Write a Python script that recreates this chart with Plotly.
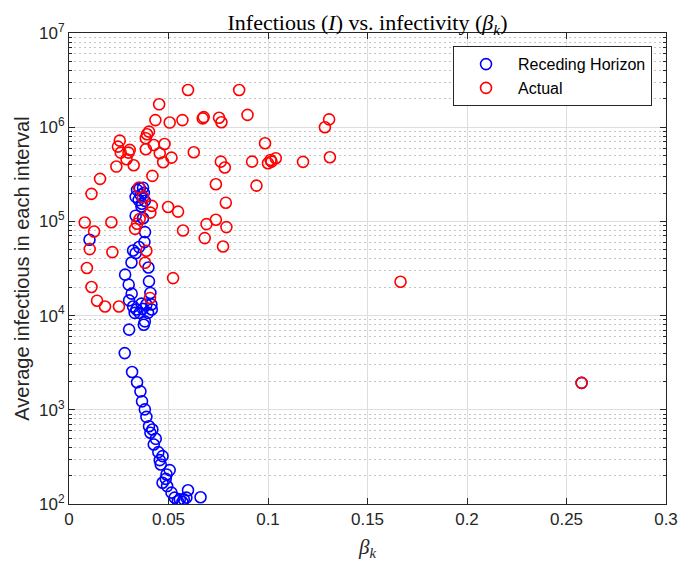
import plotly.graph_objects as go

# Receding Horizon (blue)
rh_beta = [0.0356, 0.0372, 0.0342, 0.0360, 0.0376, 0.0335, 0.0350, 0.0381, 0.0366, 0.0364,
           0.0335, 0.0372, 0.0382, 0.0103, 0.0379, 0.0352, 0.0322, 0.0335, 0.0399, 0.0314,
           0.0282, 0.0300, 0.0402, 0.0315, 0.0409, 0.0302, 0.0322, 0.0364, 0.0389, 0.0414,
           0.0339, 0.0355, 0.0397, 0.0371, 0.0330, 0.0416, 0.0381, 0.0376, 0.0302, 0.0280,
           0.0317, 0.0342, 0.0359, 0.0367, 0.0381, 0.0389, 0.0402, 0.0419, 0.0409, 0.0436,
           0.0426, 0.0449, 0.0470, 0.0456, 0.0461, 0.0506, 0.0490, 0.0486, 0.0470, 0.0493,
           0.0515, 0.0531, 0.0557, 0.0570, 0.0547, 0.0590, 0.0598, 0.0661, 0.0577, 0.2576]
rh_inf = [2.25e5, 2.28e5, 2.16e5, 1.91e5, 2.01e5, 1.82e5, 1.69e5, 1.65e5, 1.54e5, 1.44e5,
          1.15e5, 1.08e5, 7.7e4, 6.38e4, 6.03e4, 5.34e4, 4.91e4, 4.61e4, 3.24e4, 3.66e4,
          2.72e4, 2.13e4, 2.31e4, 1.71e4, 1.74e4, 1.45e4, 1.25e4, 1.34e4, 1.31e4, 1.31e4,
          1.16e4, 1.07e4, 1.07e4, 1.18e4, 1.07e4, 1.16e4, 8.69e3, 8.0e3, 7.1e3, 4.0e3,
          2.52e3, 1.96e3, 1.57e3, 1.23e3, 1.01e3, 842, 669, 618, 570, 492,
          428, 355, 322, 292, 263, 229, 206, 185, 168, 155,
          132, 117, 112, 105, 107, 117, 140, 118, 112, 1.93e3]

# Actual (red)
act_beta = [0.0598, 0.0453, 0.0434, 0.0506, 0.0570, 0.0672, 0.0677, 0.0855, 0.0754, 0.0766,
            0.0897, 0.1307, 0.1286, 0.0985, 0.0763, 0.0783, 0.0920, 0.1013, 0.1039, 0.1000,
            0.1018, 0.1176, 0.1311, 0.0738, 0.0942, 0.0788, 0.0738, 0.0691, 0.0791, 0.0682,
            0.0774, 0.0573, 0.0523, 0.0392, 0.0402, 0.0386, 0.0255, 0.0246, 0.0260, 0.0305,
            0.0299, 0.0289, 0.0325, 0.0238, 0.0386, 0.0426, 0.0480, 0.0456, 0.0515, 0.0473,
            0.0627, 0.0419, 0.0156, 0.0113, 0.0352, 0.0372, 0.0416, 0.0409, 0.0498, 0.0548,
            0.0355, 0.0342, 0.0332, 0.0213, 0.0079, 0.0126, 0.0104, 0.0218, 0.0389, 0.0382,
            0.0090, 0.0113, 0.0141, 0.0181, 0.0251, 0.0407, 0.1666, 0.2576]
act_inf = [2.48e6, 1.75e6, 1.19e6, 1.12e6, 1.19e6, 1.24e6, 1.28e6, 2.48e6, 1.26e6, 1.13e6,
           1.35e6, 1.21e6, 1.00e6, 6.76e5, 4.31e5, 3.73e5, 4.31e5, 4.49e5, 4.69e5, 4.15e5,
           4.31e5, 4.28e5, 4.80e5, 2.48e5, 2.40e5, 1.58e5, 1.04e5, 9.36e4, 8.70e4, 6.65e4,
           5.42e4, 8.00e4, 2.50e4, 8.41e5, 8.97e5, 7.63e5, 7.20e5, 6.22e5, 5.37e5, 5.74e5,
           5.37e5, 4.57e5, 3.95e5, 3.82e5, 5.84e5, 6.48e5, 6.64e5, 5.29e5, 4.75e5, 4.25e5,
           5.42e5, 3.04e5, 2.83e5, 1.96e5, 2.29e5, 1.81e5, 1.46e5, 1.24e5, 1.42e5, 1.27e5,
           1.06e5, 9.43e4, 8.34e4, 9.80e4, 9.73e4, 7.81e4, 5.08e4, 4.72e4, 4.88e4, 3.64e4,
           3.20e4, 2.01e4, 1.44e4, 1.25e4, 1.25e4, 1.54e4, 2.29e4, 1.93e3]

x_ticks = [0, 0.05, 0.1, 0.15, 0.2, 0.25, 0.3]
x_tick_text = ["0", "0.05", "0.1", "0.15", "0.2", "0.25", "0.3"]
y_ticks = [1e2, 1e3, 1e4, 1e5, 1e6, 1e7]
y_tick_text = ["10<sup>2</sup>", "10<sup>3</sup>", "10<sup>4</sup>", "10<sup>5</sup>",
               "10<sup>6</sup>", "10<sup>7</sup>"]

AX = "#262626"
fig = go.Figure()
fig.add_trace(go.Scatter(x=rh_beta, y=rh_inf, mode="markers", name="Receding Horizon",
                         marker=dict(symbol="circle-open", size=11, color="#0000ff",
                                     line=dict(width=1.6, color="#0000ff"))))
fig.add_trace(go.Scatter(x=act_beta, y=act_inf, mode="markers", name="Actual",
                         marker=dict(symbol="circle-open", size=11, color="#ff0000",
                                     line=dict(width=1.6, color="#ff0000"))))

fig.update_layout(
    width=679, height=561,
    margin=dict(l=69, r=13, t=33, b=57),
    paper_bgcolor="white", plot_bgcolor="white",
    font=dict(family="Liberation Sans, Arial, sans-serif", color=AX),
    title=dict(text="Infectious (<i>I</i>) vs. infectivity (<i>β<sub>k</sub></i>)",
               x=0.5, xref="paper", xanchor="center",
               y=1, yref="paper", yanchor="bottom", pad=dict(b=3),
               font=dict(family="Liberation Serif, serif", size=22, color="black")),
    showlegend=True,
    legend=dict(x=0.9766, y=0.972, xanchor="right", yanchor="top",
                bgcolor="white", bordercolor=AX, borderwidth=1,
                itemwidth=54, font=dict(size=16, color="black"),
                tracegroupgap=0),
    xaxis=dict(range=[0, 0.3], tickvals=x_ticks, ticktext=x_tick_text, automargin=False,
               showline=True, linecolor=AX, linewidth=1, mirror="allticks",
               ticks="inside", ticklen=6, tickcolor=AX,
               showgrid=True, gridcolor="#dedede", gridwidth=1, zeroline=False,
               tickfont=dict(size=17, color=AX),
               title=dict(text="<i>β<sub>k</sub></i>", standoff=10,
                          font=dict(family="Liberation Serif, serif", size=21, color=AX))),
    yaxis=dict(type="log", range=[2, 7], tickvals=y_ticks, ticktext=y_tick_text,
               automargin=False,
               showline=True, linecolor=AX, linewidth=1, mirror="allticks",
               ticks="inside", ticklen=6, tickcolor=AX,
               showgrid=True, gridcolor="#dedede", gridwidth=1, zeroline=False,
               tickfont=dict(size=17, color=AX),
               minor=dict(dtick="D1", ticks="inside", ticklen=3, tickcolor=AX,
                          showgrid=True, gridcolor="#c4c4c4", griddash="1.5px,3.5px",
                          gridwidth=1),
               title=dict(text="Average infectious in each interval", standoff=4,
                          font=dict(size=20, color=AX))),
)

fig.write_html("out.html")
